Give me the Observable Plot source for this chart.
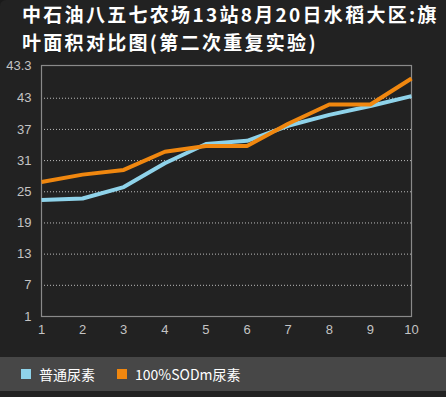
<!DOCTYPE html>
<html><head><meta charset="utf-8">
<script src="https://cdn.jsdelivr.net/npm/d3@7"></script>
<script src="https://cdn.jsdelivr.net/npm/@observablehq/plot@0.6"></script>
<style>
html,body{margin:0;padding:0;background:#1a1a1a;}
#wrap{position:relative;width:446px;height:397px;background:#222222;overflow:hidden;border-top-left-radius:6px;}
#title{position:absolute;left:22px;top:0px;width:430px;color:#fff;font-family:"Noto Sans CJK SC",sans-serif;font-size:19px;font-weight:bold;line-height:28px;letter-spacing:2.3px;white-space:nowrap;}
#chart{position:absolute;left:0;top:56px;}
#legend{position:absolute;left:0;top:357px;width:446px;height:34px;background:#474747;font-family:"Noto Sans CJK SC",sans-serif;font-size:14px;color:#fff;}
.item{position:absolute;top:0;height:34px;display:flex;align-items:center;}
.sw{width:10px;height:10px;margin-right:8px;}
</style></head>
<body><div id="wrap">
<div id="title"></div>
<div id="chart"></div>
<div id="legend"></div>
</div>
<script>
const titleLines = ["中石油八五七农场13站8月20日水稻大区:旗", "叶面积对比图(第二次重复实验)"];
const xValues = [1, 2, 3, 4, 5, 6, 7, 8, 9, 10];
const seriesNames = ["普通尿素", "100%SODm尿素"];
const seriesColors = ["#8fd3ea", "#f0870f"];
const series1 = [23.4, 23.7, 25.9, 30.5, 34.2, 34.8, 37.7, 39.8, 41.5, 43.4];
const series2 = [26.9, 28.3, 29.2, 32.7, 33.8, 33.8, 38.1, 41.8, 41.8, 46.8];
const yTickValues = [1, 7, 13, 19, 25, 31, 37, 43, 49.3];
const yTickLabels = ["1", "7", "13", "19", "25", "31", "37", "43", "43.3"];
const gridValues = [7, 13, 19, 25, 31, 37, 43];

document.getElementById("title").innerHTML = titleLines.join("<br>");

const data = [];
[series1, series2].forEach((s, i) => s.forEach((v, j) => data.push({x: xValues[j], y: v, name: seriesNames[i]})));

const plot = Plot.plot({
  width: 446,
  height: 301,
  marginTop: 9,
  marginBottom: 41,
  marginLeft: 41,
  marginRight: 35,
  style: {background: "transparent", color: "#c4c4c4", fontFamily: "Liberation Sans, sans-serif", fontSize: "13px"},
  x: {domain: [1, 10], ticks: xValues, tickSize: 0, tickPadding: 8, tickFormat: d => String(d), label: null},
  y: {domain: [1, 49.3], ticks: yTickValues, tickSize: 0, tickPadding: 10, tickFormat: (d, i) => yTickLabels[i], label: null},
  color: {domain: seriesNames, range: seriesColors},
  marks: [
    Plot.ruleY(gridValues, {stroke: "#bbbbbb", strokeDasharray: "1,2", strokeWidth: 1}),
    Plot.frame({stroke: "#8a8a8a", strokeWidth: 1.2}),
    Plot.line(data, {x: "x", y: "y", z: "name", stroke: "name", strokeWidth: 4, strokeLinejoin: "miter", strokeLinecap: "butt"})
  ]
});
document.getElementById("chart").appendChild(plot);

const leg = document.getElementById("legend");
const lefts = [21, 117];
seriesNames.forEach((n, i) => {
  const it = document.createElement("div");
  it.className = "item";
  it.style.left = lefts[i] + "px";
  it.innerHTML = `<div class="sw" style="background:${seriesColors[i]}"></div><span>${n}</span>`;
  leg.appendChild(it);
});
</script>
</body></html>
